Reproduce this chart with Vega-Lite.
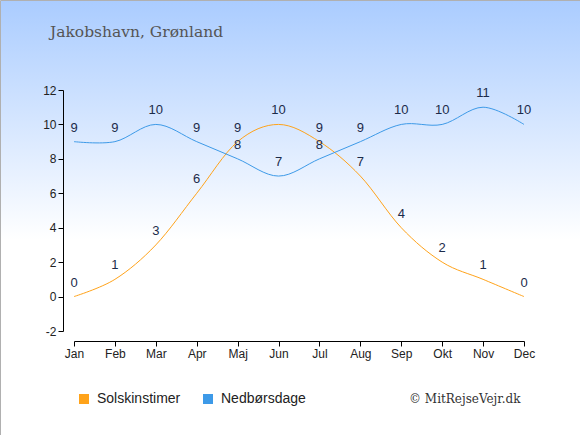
{
  "$schema": "https://vega.github.io/schema/vega-lite/v6.json",
  "width": 580,
  "height": 435,
  "autosize": "none",
  "padding": 0,
  "config": {
    "view": {
      "stroke": "#b0b0b0",
      "fill": {
        "gradient": "linear", "x1": 0, "y1": 0, "x2": 0, "y2": 1,
        "stops": [
          {"offset": 0, "color": "#aaccff"},
          {"offset": 0.55, "color": "#ffffff"},
          {"offset": 1, "color": "#ffffff"}
        ]
      }
    },
    "axis": {
      "labelFont": "Liberation Sans", "labelFontSize": 12, "labelColor": "#222222",
      "domainColor": "#000000", "tickColor": "#000000", "tickSize": 5, "grid": false
    },
    "legend": {"labelFont": "Liberation Sans", "titleFont": "Liberation Sans"}
  },
  "title": {
    "text": "Jakobshavn, Grønland",
    "anchor": "start",
    "frame": "group",
    "font": "DejaVu Serif",
    "fontSize": 15.5,
    "fontWeight": "normal",
    "color": "#555555",
    "baseline": "alphabetic",
    "dx": 50,
    "offset": -52
  },
  "data": {
    "values": [
      {"month": "Jan", "serie": "Solskinstimer", "value": 0},
      {"month": "Feb", "serie": "Solskinstimer", "value": 1},
      {"month": "Mar", "serie": "Solskinstimer", "value": 3},
      {"month": "Apr", "serie": "Solskinstimer", "value": 6},
      {"month": "Maj", "serie": "Solskinstimer", "value": 9},
      {"month": "Jun", "serie": "Solskinstimer", "value": 10},
      {"month": "Jul", "serie": "Solskinstimer", "value": 9},
      {"month": "Aug", "serie": "Solskinstimer", "value": 7},
      {"month": "Sep", "serie": "Solskinstimer", "value": 4},
      {"month": "Okt", "serie": "Solskinstimer", "value": 2},
      {"month": "Nov", "serie": "Solskinstimer", "value": 1},
      {"month": "Dec", "serie": "Solskinstimer", "value": 0},
      {"month": "Jan", "serie": "Nedbørsdage", "value": 9},
      {"month": "Feb", "serie": "Nedbørsdage", "value": 9},
      {"month": "Mar", "serie": "Nedbørsdage", "value": 10},
      {"month": "Apr", "serie": "Nedbørsdage", "value": 9},
      {"month": "Maj", "serie": "Nedbørsdage", "value": 8},
      {"month": "Jun", "serie": "Nedbørsdage", "value": 7},
      {"month": "Jul", "serie": "Nedbørsdage", "value": 8},
      {"month": "Aug", "serie": "Nedbørsdage", "value": 9},
      {"month": "Sep", "serie": "Nedbørsdage", "value": 10},
      {"month": "Okt", "serie": "Nedbørsdage", "value": 10},
      {"month": "Nov", "serie": "Nedbørsdage", "value": 11},
      {"month": "Dec", "serie": "Nedbørsdage", "value": 10}
    ]
  },
  "encoding": {
    "x": {
      "field": "month", "type": "ordinal",
      "sort": ["Jan", "Feb", "Mar", "Apr", "Maj", "Jun", "Jul", "Aug", "Sep", "Okt", "Nov", "Dec"],
      "scale": {"type": "point", "padding": 0, "range": [74, 524]},
      "axis": {
        "labelAngle": 0, "offset": -94,
        "title": "© MitRejseVejr.dk",
        "titleFont": "DejaVu Serif", "titleFontSize": 12, "titleFontWeight": "normal",
        "titleColor": "#333333", "titleAnchor": "end", "titleAlign": "right",
        "titleBaseline": "alphabetic", "titleX": 520, "titleY": 61
      }
    },
    "y": {
      "field": "value", "type": "quantitative",
      "scale": {"domain": [-2, 12], "nice": false, "range": [331, 90]},
      "axis": {"values": [-2, 0, 2, 4, 6, 8, 10, 12], "offset": -63, "title": null, "labelExpr": "toString(datum.value)"}
    },
    "color": {
      "field": "serie", "type": "nominal",
      "scale": {"domain": ["Solskinstimer", "Nedbørsdage"], "range": ["#ffa31a", "#3d9ae8"]},
      "legend": {
        "title": null, "orient": "none", "direction": "horizontal",
        "legendX": 77, "legendY": 392,
        "symbolType": "square", "symbolSize": 100,
        "labelFontSize": 14, "labelColor": "#222222", "labelOffset": 6,
        "columnPadding": 20,
        "encode": {
          "symbols": {
            "update": {
              "fill": {"scale": "color", "field": "value"},
              "strokeWidth": {"value": 0}
            }
          }
        }
      }
    }
  },
  "layer": [
    {
      "mark": {"type": "line", "interpolate": "cardinal", "strokeWidth": 1}
    },
    {
      "mark": {"type": "text", "dy": -14, "font": "Liberation Sans", "fontSize": 13, "color": "#1c2b4a"},
      "encoding": {
        "text": {"field": "value", "type": "quantitative"},
        "color": {"value": "#1c2b4a"}
      }
    }
  ]
}
